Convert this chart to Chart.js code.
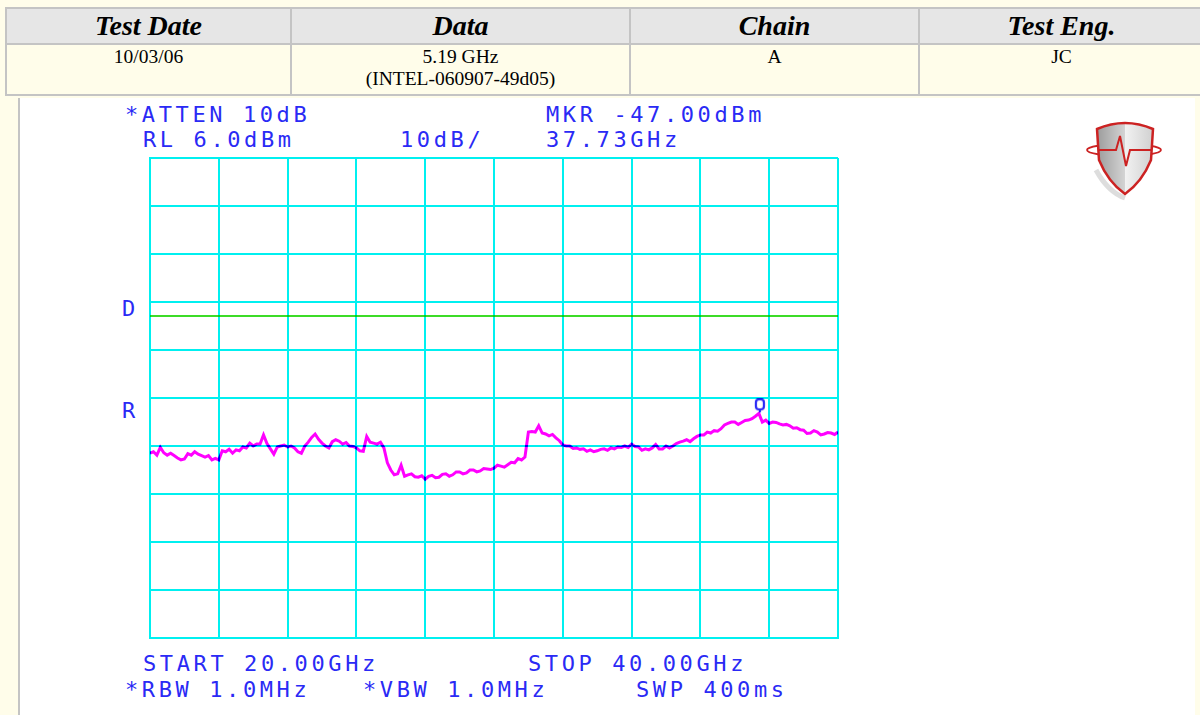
<!DOCTYPE html>
<html>
<head>
<meta charset="utf-8">
<script src="https://cdn.jsdelivr.net/npm/chart.js@4.4.1/dist/chart.umd.min.js"></script>
<style>
  body { margin: 0; width: 1200px; height: 715px; overflow: hidden; position: relative;
         background: #fffdea; font-family: "Liberation Serif", "Times New Roman", serif; }
  table.info { position: absolute; left: 5px; top: 7px; width: 1200px; border-collapse: collapse; }
  table.info th, table.info td { border: 2px solid #c4c4c4; text-align: center; }
  table.info th { background: #e6e6e6; font-size: 28px; font-style: italic; font-weight: bold; height: 34px; padding: 0; }
  table.info td { font-size: 19.5px; vertical-align: top; height: 48px; padding: 1px 0 0 0; line-height: 22px; }
  #panel { position: absolute; left: 18px; top: 98px; width: 1175px; height: 620px; background: #fff;
           border-left: 2px solid #c4c4c4; }
  .hp { position: absolute; font-family: "DejaVu Sans Mono", monospace; font-size: 22px; line-height: 22px;
        letter-spacing: 3.6px; color: #2a2af5; white-space: pre; }
  #wrap { position: absolute; left: 0; top: 0; width: 1200px; height: 715px; }
</style>
</head>
<body>
<table class="info">
  <tr><th style="width:283px">Test Date</th><th style="width:337px">Data</th><th style="width:287px">Chain</th><th>Test Eng.</th></tr>
  <tr><td>10/03/06</td><td>5.19 GHz<br>(INTEL-060907-49d05)</td><td>A</td><td>JC</td></tr>
</table>
<div id="panel"></div>

<svg style="position:absolute;left:0;top:0" width="1200" height="715">
  <defs>
    <linearGradient id="sh" x1="0" x2="1" y1="0" y2="0">
      <stop offset="0" stop-color="#9c9c9c"/><stop offset="0.5" stop-color="#d4d4d4"/>
      <stop offset="0.5" stop-color="#f2f2f2"/><stop offset="1" stop-color="#d0d0d0"/>
    </linearGradient>
  </defs>
  <path d="M1096,170 Q1108,192 1125,198" stroke="#bbb" stroke-width="5" fill="none" opacity="0.5"/>
  <ellipse cx="1124" cy="150" rx="37" ry="6" fill="none" stroke="#cc2222" stroke-width="1.8"/>
  <path d="M1097,129 Q1125,117 1153,129 L1151,160 Q1142,182 1125,194 Q1108,182 1099,160 Z"
        fill="url(#sh)" stroke="#cc2222" stroke-width="2.5"/>
  <polyline points="1099,150 1116,150 1120,136 1126,166 1130,150 1151,150" fill="none" stroke="#cc2222" stroke-width="2"/>
</svg>

<div class="hp" style="left:125px;top:104px">*ATTEN 10dB</div>
<div class="hp" style="left:143px;top:129px">RL 6.0dBm</div>
<div class="hp" style="left:400px;top:129px">10dB/</div>
<div class="hp" style="left:546px;top:104px">MKR -47.00dBm</div>
<div class="hp" style="left:546px;top:129px">37.73GHz</div>
<div class="hp" style="left:122px;top:298px">D</div>
<div class="hp" style="left:122px;top:400px">R</div>
<div class="hp" style="left:143px;top:653px">START 20.00GHz</div>
<div class="hp" style="left:528px;top:653px">STOP 40.00GHz</div>
<div class="hp" style="left:125px;top:679px">*RBW 1.0MHz</div>
<div class="hp" style="left:363px;top:679px">*VBW 1.0MHz</div>
<div class="hp" style="left:636px;top:679px">SWP 400ms</div>

<div id="wrap"><canvas id="spec" width="1200" height="715"></canvas></div>

<script>
// sweep 20 - 40 GHz, trace read every 0.1 GHz (dBm)
const startGHz = 20, stopGHz = 40, stepGHz = 0.1;
const trace = [
  -55.5, -55.2, -55.9, -54.3, -55.4, -55.9, -55.5, -56.0, -56.5, -56.9,
  -56.7, -55.6, -55.9, -55.2, -55.7, -56.0, -56.3, -56.0, -56.9, -56.6,
  -56.9, -55.0, -55.2, -54.7, -55.5, -54.8, -55.0, -54.2, -54.4, -53.4,
  -54.0, -53.6, -53.6, -51.7, -53.5, -54.6, -55.7, -54.2, -54.0, -53.8,
  -54.2, -54.0, -54.4, -55.2, -55.5, -54.0, -53.2, -52.2, -51.5, -52.6,
  -53.4, -54.0, -54.4, -53.1, -52.7, -53.0, -53.6, -53.3, -54.0, -54.1,
  -54.4, -55.0, -55.1, -52.0, -53.2, -53.4, -53.6, -53.2, -54.4, -57.5,
  -59.0, -60.0, -59.8, -58.0, -60.3, -60.0, -59.8, -60.4, -60.5, -60.2,
  -60.9, -60.3, -60.1, -60.6, -60.5, -59.9, -59.8, -60.3, -60.0, -59.4,
  -59.4, -59.8, -59.6, -59.0, -59.0, -59.4, -59.2, -58.7, -58.8, -58.9,
  -58.6, -58.0, -58.2, -58.4, -57.9, -57.4, -57.5, -56.6, -56.9, -56.3,
  -51.1, -51.0, -51.1, -49.8, -51.3, -51.5, -51.9, -51.6, -52.3, -52.9,
  -53.8, -54.0, -54.0, -54.5, -54.4, -54.7, -54.6, -55.1, -54.8, -55.2,
  -55.0, -54.7, -54.6, -54.9, -54.4, -54.6, -54.2, -54.3, -54.0, -54.3,
  -53.6, -54.1, -54.2, -54.9, -54.6, -54.8, -54.4, -53.7, -54.6, -54.6,
  -54.0, -54.4, -54.0, -53.5, -53.2, -53.0, -52.7, -53.1, -52.5, -52.0,
  -51.7, -51.7, -51.1, -51.3, -50.8, -50.9, -50.4, -49.6, -49.3, -49.0,
  -49.0, -49.5, -49.1, -48.7, -48.6, -48.3, -47.8, -47.2, -49.0, -48.6,
  -49.3, -49.0, -49.1, -49.4, -49.6, -49.5, -49.8, -50.3, -50.2, -50.6,
  -50.7, -51.4, -51.3, -50.8, -51.1, -51.7, -51.5, -51.2, -51.3, -51.6,
  -51.1
];
const displayLine = -26.9;          // "D" line, dBm
const markerGHz = 37.73, markerDbm = -47.0;
const xTicks = [20, 22, 24, 26, 28, 30, 32, 34, 36, 38, 40];
const yTicks = [-94, -84, -74, -64, -54, -44, -34, -24, -14, -4, 6];

const freqs = trace.map((v, i) => startGHz + i * stepGHz);

const cyan = "#00f0f0";
const hpBlue = "#2a2af5";

// analyzer marker symbol: small box sitting above the point
function markerSymbol() {
    const c = document.createElement("canvas");
    c.width = 12; c.height = 28;
    const g = c.getContext("2d");
    g.strokeStyle = hpBlue;
    g.lineWidth = 2.2;
    g.fillStyle = "#fff";
    g.beginPath();
    g.roundRect(2, 1, 8, 10, 3);
    g.fill(); g.stroke();
    g.beginPath(); g.moveTo(6, 11); g.lineTo(6, 14); g.stroke();
    return c;
}

// trace is plotted like the analyzer does: magenta over cyan gives blue
const blend = {
    id: "blend",
    beforeDatasetsDraw(chart) { chart.ctx.save(); chart.ctx.globalCompositeOperation = "multiply"; },
    afterDatasetsDraw(chart) { chart.ctx.restore(); }
};

new Chart(document.getElementById("spec"), {
    type: "line",
    data: {
        datasets: [{
            data: freqs.map((f, i) => ({ x: f, y: trace[i] })),
            borderColor: "#ff00ff",
            borderWidth: 3,
            pointRadius: 0,
            tension: 0
        }, {
            data: [{ x: startGHz, y: displayLine }, { x: stopGHz, y: displayLine }],
            borderColor: "#3cdc28",
            borderWidth: 2,
            pointRadius: 0
        }, {
            data: [{ x: markerGHz, y: markerDbm }],
            showLine: false,
            pointStyle: markerSymbol(),
            pointRadius: 6
        }]
    },
    options: {
        responsive: false,
        animation: false,
        events: [],
        layout: { padding: { left: 150, top: 158, right: 362, bottom: 77 } },
        plugins: { legend: { display: false }, tooltip: { enabled: false } },
        scales: {
            x: {
                type: "linear", min: startGHz, max: stopGHz,
                afterBuildTicks: axis => { axis.ticks = xTicks.map(v => ({ value: v })); },
                ticks: { display: false },
                grid: { color: cyan, lineWidth: 2, drawTicks: false },
                border: { color: cyan, width: 2 }
            },
            y: {
                type: "linear", min: yTicks[0], max: yTicks[yTicks.length - 1],
                afterBuildTicks: axis => { axis.ticks = yTicks.map(v => ({ value: v })); },
                ticks: { display: false },
                grid: { color: cyan, lineWidth: 2, drawTicks: false },
                border: { color: cyan, width: 2 }
            }
        }
    },
    plugins: [blend]
});
</script>
</body>
</html>
